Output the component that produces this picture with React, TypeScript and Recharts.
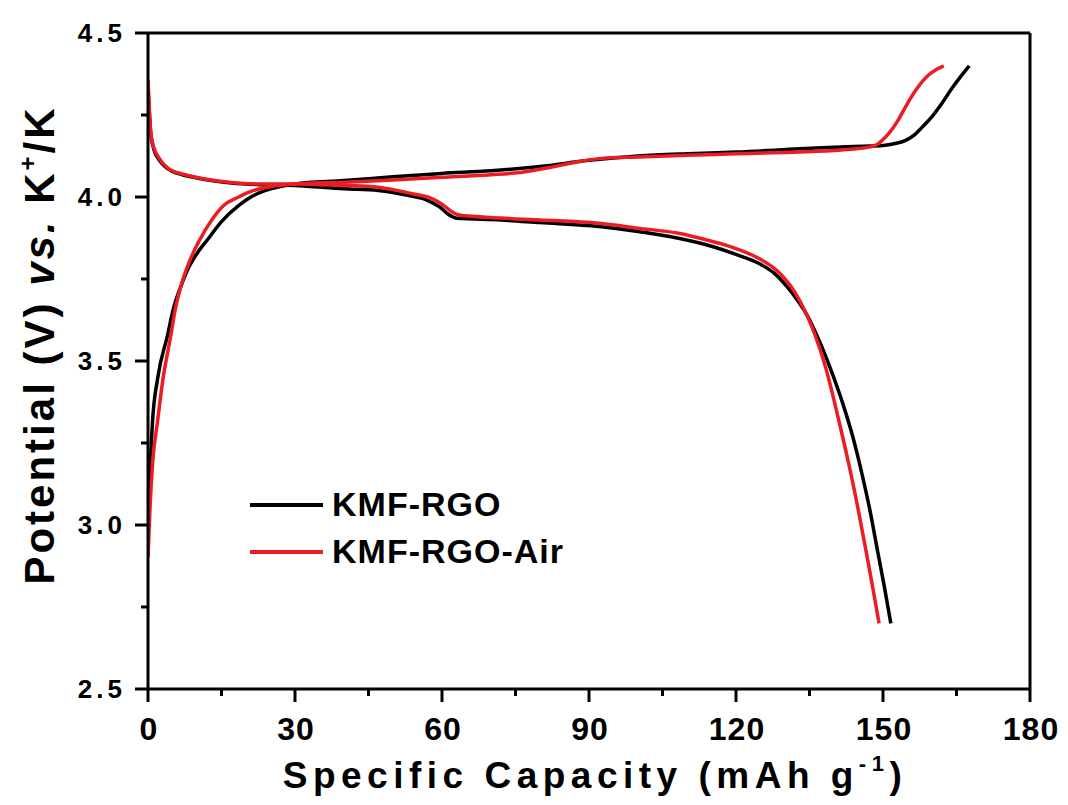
import React from "react";
import { LineChart, Line, XAxis, YAxis, Legend, ReferenceLine } from "recharts";

const FONT = '"Liberation Sans", Arial, Helvetica, sans-serif';

// KMF-RGO (black) — discharge branch
const rgoDisCap = [0, 0.3, 0.6, 1.2, 2.2, 3.5, 5, 7, 10, 17, 22, 30, 40, 47, 53, 57, 59.5, 61.5, 63, 72, 80, 92, 100, 108, 115, 120, 125, 128, 130.5, 132.5, 134.5, 136.3, 139.2, 141.8, 144, 145.8, 147.4, 148.9, 150.3, 151.6];
const rgoDisV = [4.33, 4.25, 4.19, 4.145, 4.115, 4.092, 4.078, 4.068, 4.058, 4.043, 4.038, 4.035, 4.025, 4.02, 4.005, 3.99, 3.97, 3.945, 3.935, 3.93, 3.922, 3.91, 3.895, 3.875, 3.85, 3.825, 3.795, 3.765, 3.725, 3.686, 3.64, 3.585, 3.48, 3.37, 3.26, 3.15, 3.04, 2.92, 2.81, 2.7];
// KMF-RGO (black) — charge branch
const rgoChCap = [0, 0.3, 0.9, 2, 3.9, 5.2, 6.7, 8.3, 10.1, 12.1, 15, 18.6, 21, 24, 27, 30, 40, 50, 60, 70, 80, 90, 100, 110, 120, 133, 140, 146, 150, 152.5, 154.5, 156.3, 158, 160, 162, 164, 166, 167.6];
const rgoChV = [2.95, 3.1, 3.31, 3.45, 3.573, 3.66, 3.727, 3.785, 3.83, 3.869, 3.925, 3.975, 4.0, 4.02, 4.032, 4.04, 4.05, 4.062, 4.072, 4.08, 4.093, 4.112, 4.125, 4.132, 4.137, 4.147, 4.152, 4.155, 4.157, 4.163, 4.172, 4.188, 4.213, 4.245, 4.285, 4.33, 4.37, 4.4];

// KMF-RGO-Air (red) — discharge branch
const airDisCap = [0, 0.3, 0.55, 1.2, 2.2, 3.5, 4.9, 7, 9.8, 16.5, 22, 30, 40, 47, 54, 57.5, 60, 62, 63.5, 72, 80, 92, 100, 108, 115, 119, 125, 128, 130, 132, 134, 136, 138.3, 140.8, 143.1, 144.9, 146.5, 147.9, 149.2];
const airDisV = [4.357, 4.26, 4.195, 4.15, 4.12, 4.095, 4.08, 4.07, 4.06, 4.045, 4.04, 4.04, 4.035, 4.03, 4.01, 3.998, 3.978, 3.955, 3.945, 3.936, 3.93, 3.92, 3.905, 3.89, 3.865, 3.848, 3.81, 3.78, 3.75, 3.71, 3.655, 3.585, 3.48, 3.33, 3.18, 3.05, 2.924, 2.81, 2.7];
// KMF-RGO-Air (red) — charge branch
const airChCap = [0, 0.4, 1, 1.9, 3, 4.6, 5.6, 6.7, 8.5, 10.4, 13, 15.5, 18.5, 21, 25, 30, 40, 50, 60, 70, 76, 82, 87, 92, 100, 110, 120, 130, 140, 144, 147, 148.8, 150, 151.2, 153, 154.6, 156.7, 158, 159.3, 160.8, 162.4];
const airChV = [2.9, 3.05, 3.2, 3.31, 3.44, 3.573, 3.66, 3.727, 3.805, 3.865, 3.93, 3.975, 4.0, 4.017, 4.032, 4.04, 4.045, 4.052, 4.06, 4.068, 4.075, 4.09, 4.105, 4.117, 4.122, 4.127, 4.132, 4.136, 4.142, 4.146, 4.152, 4.16, 4.175, 4.194, 4.232, 4.275, 4.326, 4.352, 4.372, 4.388, 4.4];

const seriesNames = ["KMF-RGO", "KMF-RGO-Air"];
const seriesColors = ["#000000", "#ec1c24"];

const xTicks = [0, 15, 30, 45, 60, 75, 90, 105, 120, 135, 150, 165, 180];
const yTicks = [2.5, 2.75, 3.0, 3.25, 3.5, 3.75, 4.0, 4.25, 4.5];

const toPoints = (cap: number[], v: number[]) => cap.map((c, i) => ({ cap: c, v: v[i] }));

const rgoDis = toPoints(rgoDisCap, rgoDisV);
const rgoCh = toPoints(rgoChCap, rgoChV);
const airDis = toPoints(airDisCap, airDisV);
const airCh = toPoints(airChCap, airChV);

// eslint-disable-next-line @typescript-eslint/no-explicit-any
const XTick = ({ x, y, payload }: any) => {
  const major = payload.value % 30 === 0;
  return (
    <g>
      <line x1={x} x2={x} y1={y} y2={y + (major ? 13 : 7)} stroke="#000" strokeWidth={3} />
      {major && (
        <text x={x + 1} y={y + 51} textAnchor="middle" fontFamily={FONT} fontWeight="bold" fontSize={32} letterSpacing={1} fill="#000">
          {payload.value}
        </text>
      )}
    </g>
  );
};

// eslint-disable-next-line @typescript-eslint/no-explicit-any
const YTick = ({ x, y, payload }: any) => {
  const major = Math.abs(payload.value * 2 - Math.round(payload.value * 2)) < 1e-6;
  return (
    <g>
      <line x1={x - (major ? 13 : 7)} x2={x} y1={y} y2={y} stroke="#000" strokeWidth={3} />
      {major && (
        <text x={x - 22} y={y + 9} textAnchor="end" fontFamily={FONT} fontWeight="bold" fontSize={26} letterSpacing={4} fill="#000">
          {payload.value.toFixed(1)}
        </text>
      )}
    </g>
  );
};

// eslint-disable-next-line @typescript-eslint/no-explicit-any
const XTitle = ({ viewBox }: any) => {
  const cx = viewBox.x + viewBox.width / 2 + 6;
  const by = viewBox.y + 99;
  return (
    <text x={cx} y={by} textAnchor="middle" fontFamily={FONT} fontWeight="bold" fontSize={37} letterSpacing={5.5} fill="#000">
      Specific Capacity (mAh g
      <tspan fontSize={22} dy={-17}>-1</tspan>
      <tspan dy={17}>)</tspan>
    </text>
  );
};

// eslint-disable-next-line @typescript-eslint/no-explicit-any
const YTitle = ({ viewBox }: any) => {
  const bx = viewBox.x + 54;
  const cy = viewBox.y + viewBox.height / 2 - 16;
  return (
    <text
      x={bx}
      y={cy}
      transform={`rotate(-90 ${bx} ${cy})`}
      textAnchor="middle"
      fontFamily={FONT}
      fontWeight="bold"
      fontSize={42}
      letterSpacing={3}
      fill="#000"
    >
      Potential (V) <tspan fontStyle="italic">vs.</tspan> K
      <tspan fontSize={24} dy={-18}>+</tspan>
      <tspan dy={18}>/K</tspan>
    </text>
  );
};

// eslint-disable-next-line @typescript-eslint/no-explicit-any
const LegendContent = ({ payload }: any) => (
  <div>
    {(payload || [])
      .filter((entry: { type?: string }) => entry.type !== "none")
      .map((entry: { value: string; color: string }, i: number) => (
        <div key={i} style={{ display: "flex", alignItems: "center", height: 47 }}>
          <div style={{ width: 73, height: 4, background: entry.color, marginRight: 9 }} />
          <span style={{ fontFamily: FONT, fontWeight: "bold", fontSize: 34, letterSpacing: 1, lineHeight: "47px", color: "#000" }}>
            {entry.value}
          </span>
        </div>
      ))}
  </div>
);

export default function App() {
  return (
    <div style={{ position: "absolute", left: 0, top: 0, width: 1068, height: 805, background: "#fff" }}>
      <LineChart width={1068} height={805} margin={{ top: 33, right: 38, left: 0, bottom: 0 }}>
        <XAxis
          type="number"
          dataKey="cap"
          domain={[0, 180]}
          ticks={xTicks}
          interval={0}
          allowDataOverflow
          height={116}
          tickSize={0}
          tickMargin={0}
          tickLine={false}
          axisLine={{ stroke: "#000", strokeWidth: 3 }}
          tick={(p) => <XTick {...p} />}
          label={<XTitle />}
        />
        <YAxis
          type="number"
          dataKey="v"
          domain={[2.5, 4.5]}
          ticks={yTicks}
          interval={0}
          allowDataOverflow
          width={148}
          tickSize={0}
          tickMargin={0}
          tickLine={false}
          axisLine={{ stroke: "#000", strokeWidth: 3 }}
          tick={(p) => <YTick {...p} />}
          label={<YTitle />}
        />
        <ReferenceLine y={4.5} stroke="#000" strokeWidth={3} />
        <ReferenceLine x={180} stroke="#000" strokeWidth={3} />
        <Legend
          layout="vertical"
          verticalAlign="middle"
          align="center"
          wrapperStyle={{ left: 250, top: 481, width: "auto" }}
          content={<LegendContent />}
        />
        {/* KMF-RGO */}
        <Line data={rgoCh} dataKey="v" type="monotone" stroke={seriesColors[0]} strokeWidth={3.5} dot={false} activeDot={false} legendType="none" isAnimationActive={false} />
        <Line data={rgoDis} dataKey="v" name={seriesNames[0]} type="monotone" stroke={seriesColors[0]} strokeWidth={3.5} dot={false} activeDot={false} isAnimationActive={false} />
        {/* KMF-RGO-Air */}
        <Line data={airCh} dataKey="v" type="monotone" stroke={seriesColors[1]} strokeWidth={3.5} dot={false} activeDot={false} legendType="none" isAnimationActive={false} />
        <Line data={airDis} dataKey="v" name={seriesNames[1]} type="monotone" stroke={seriesColors[1]} strokeWidth={3.5} dot={false} activeDot={false} isAnimationActive={false} />
      </LineChart>
    </div>
  );
}
